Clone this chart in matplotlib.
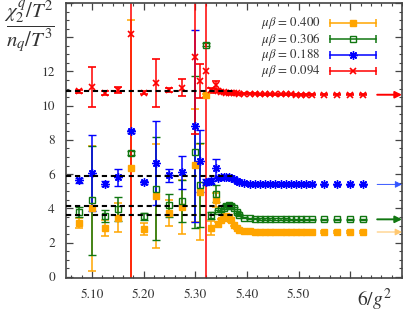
import numpy as np
import matplotlib
matplotlib.use('Agg')
import matplotlib.pyplot as plt
from matplotlib.ticker import MultipleLocator

plt.rcParams['font.family'] = ['STIXGeneral', 'DejaVu Serif']
plt.rcParams['mathtext.fontset'] = 'stix'

# 6/g^2 values (same for every mu beta)
beta = [5.075, 5.10, 5.125, 5.15, 5.175, 5.20, 5.225, 5.25, 5.275, 5.30, 5.31, 5.32,
        5.33, 5.34, 5.345, 5.35, 5.355, 5.36, 5.365, 5.37, 5.375, 5.38, 5.385,
        5.395, 5.405, 5.415, 5.425, 5.435, 5.445, 5.455, 5.465, 5.475, 5.485,
        5.495, 5.505, 5.515, 5.525,
        5.55, 5.575, 5.60, 5.625]

labels = ['0.400', '0.306', '0.188', '0.094']

r_400 = [3.15, 4.00, 2.86, 3.46, 6.38, 2.82, 4.71, 3.73, 4.08, 6.51, 4.96, 10.60,
         2.86, 4.50, 3.10, 3.30, 3.45, 3.55, 3.50, 3.30, 3.05, 2.85, 2.72,
         2.67, 2.65, 2.64, 2.64, 2.63, 2.63, 2.63, 2.62, 2.62, 2.62, 2.62, 2.62, 2.62, 2.62,
         2.62, 2.62, 2.62, 2.62]
e_400 = [0.30, 3.65, 0.45, 0.85, 8.60, 0.35, 3.05, 0.75, 1.60, 3.30, 2.80, 0.10,
         0.40, 0.40, 0.10, 0.10, 0.10, 0.10, 0.10, 0.10, 0.08, 0.08, 0.06,
         0.05, 0.05, 0.05, 0.04, 0.04, 0.04, 0.04, 0.04, 0.04, 0.04, 0.04, 0.04, 0.04, 0.04,
         0.04, 0.04, 0.04, 0.04]

r_306 = [3.79, 4.47, 3.54, 3.99, 7.23, 3.54, 5.15, 4.18, 4.43, 7.29, 5.35, 13.57,
         3.60, 4.86, 3.85, 3.95, 4.05, 4.15, 4.18, 4.15, 4.00, 3.80, 3.60,
         3.45, 3.42, 3.40, 3.39, 3.38, 3.38, 3.37, 3.37, 3.37, 3.36, 3.36, 3.36, 3.36, 3.36,
         3.36, 3.36, 3.36, 3.36]
e_306 = [0.27, 3.20, 0.35, 0.70, 0.10, 0.20, 3.00, 0.66, 1.20, 4.45, 2.45, 0.10,
         0.20, 0.50, 0.08, 0.08, 0.08, 0.08, 0.08, 0.08, 0.06, 0.06, 0.05,
         0.04, 0.04, 0.04, 0.04, 0.04, 0.04, 0.04, 0.04, 0.04, 0.04, 0.04, 0.04, 0.04, 0.04,
         0.04, 0.04, 0.04, 0.04]

r_188 = [5.64, 6.06, 5.45, 5.82, 8.50, 5.52, 6.63, 5.93, 6.10, 8.80, 6.76, 5.54,
         5.60, 6.35, 5.75, 5.82, 5.85, 5.86, 5.84, 5.78, 5.70, 5.60, 5.52,
         5.46, 5.44, 5.43, 5.42, 5.42, 5.41, 5.41, 5.41, 5.40, 5.40, 5.40, 5.40, 5.40, 5.40,
         5.40, 5.40, 5.40, 5.40]
e_188 = [0.15, 2.20, 0.15, 0.50, 0.10, 0.10, 2.45, 0.40, 0.95, 5.60, 1.80, 0.15,
         0.15, 0.55, 0.08, 0.08, 0.08, 0.08, 0.08, 0.08, 0.06, 0.06, 0.05,
         0.04, 0.04, 0.04, 0.04, 0.04, 0.04, 0.04, 0.04, 0.04, 0.04, 0.04, 0.04, 0.04, 0.04,
         0.04, 0.04, 0.04, 0.04]

r_094 = [10.83, 11.08, 10.73, 10.90, 14.19, 10.75, 11.35, 10.93, 11.04, 12.87, 11.45, 12.00,
         10.90, 11.22, 10.86, 10.82, 10.79, 10.77, 10.75, 10.74, 10.73, 10.72, 10.71,
         10.70, 10.69, 10.69, 10.68, 10.68, 10.67, 10.67, 10.66, 10.66, 10.66, 10.65, 10.65,
         10.65, 10.65,
         10.64, 10.64, 10.64, 10.64]
e_094 = [0.10, 1.17, 0.10, 0.18, 20.0, 0.08, 1.40, 0.12, 0.50, 4.55, 1.00, 20.0,
         0.15, 0.25, 0.05, 0.05, 0.05, 0.05, 0.05, 0.05, 0.05, 0.05, 0.05,
         0.03, 0.03, 0.03, 0.03, 0.03, 0.03, 0.03, 0.03, 0.03, 0.03, 0.03, 0.03, 0.03, 0.03,
         0.03, 0.03, 0.03, 0.03]

# dashed reference levels (low beta region)
ref_levels = [10.88, 5.89, 4.14, 3.60]
ref_xmax = 5.375

series = [
    (r_400, e_400, dict(marker='s', ms=5, mfc='#ffa500', mec='#ffa500', color='#ffa500'), '#ffc870', 0.8),
    (r_306, e_306, dict(marker='s', ms=5, mfc='none', mec='#117711', mew=1.0, color='#117711'), '#117711', 1.4),
    (r_188, e_188, dict(marker=(8, 2, 0), ms=6, mec='#0000ff', mew=1.0, color='#0000ff'), '#3355ff', 0.7),
    (r_094, e_094, dict(marker='x', ms=5, mec='#ff0000', mew=1.2, color='#ff0000'), '#ff0000', 1.4),
]

fig = plt.figure(figsize=(4.03, 3.15), dpi=100)
ax = fig.add_axes([0.1638, 0.1184, 0.9975 - 0.1638, 0.9905 - 0.1184])

for y, e, st, acol, alw in series:
    ax.errorbar(beta, y, yerr=e, linestyle='none', elinewidth=1.1, capsize=3.2,
                capthick=1.1, **st)
    ax.annotate('', xy=(5.70, y[-1]), xytext=(5.652, y[-1]),
                arrowprops=dict(arrowstyle='-|>', color=acol, lw=alw,
                                mutation_scale=10, shrinkA=0, shrinkB=0),
                annotation_clip=False)

for lv in ref_levels:
    ax.plot([5.05, ref_xmax], [lv, lv], color='black', lw=1.5,
            dashes=(2.5, 1.8), zorder=5)

ax.set_xlim(5.05, 5.70)
ax.set_ylim(-0.05, 16)
ax.xaxis.set_minor_locator(MultipleLocator(0.02))
ax.yaxis.set_minor_locator(MultipleLocator(0.5))
xt = [5.1, 5.2, 5.3, 5.4, 5.5, 5.6]
ax.set_xticks(xt)
ax.set_xticklabels(['5.10', '5.20', '5.30', '5.40', '5.50', ''])
yt = [0, 2, 4, 6, 8, 10, 12, 14, 16]
ax.set_yticks(yt)
ax.set_yticklabels(['0', '2', '4', '6', '8', '10', '12', '', ''])

gray = '#444444'
ax.tick_params(which='both', direction='in', top=True, right=True, colors=gray,
               labelsize=9.5, labelcolor='#333333')
ax.tick_params(which='major', length=5, width=0.9, pad=8)
ax.tick_params(which='minor', length=2.5, width=0.8)
for sp in ax.spines.values():
    sp.set_color(gray)
    sp.set_linewidth(1.2)

# legend drawn by hand (horizontal error bar style)
leg_y = [0.926, 0.868, 0.811, 0.752]
for (y, e, st, acol, alw), lab, ly in zip(series, labels, leg_y):
    c = st['color']
    ax.plot([0.786, 0.923], [ly, ly], color=c, lw=1.1, transform=ax.transAxes,
            clip_on=False, zorder=6)
    ax.plot([0.786, 0.923], [ly, ly], linestyle='none', marker='|', ms=6,
            mew=1.1, color=c, transform=ax.transAxes, clip_on=False, zorder=6)
    ax.plot([0.854], [ly], linestyle='none', transform=ax.transAxes,
            clip_on=False, zorder=7, **st)
    ax.text(0.757, ly, r'$\mu\beta$ = ' + lab, transform=ax.transAxes,
            ha='right', va='center', fontsize=9.3, color='#333333')

fig.text(0.073, 0.915, r'$\dfrac{\chi_2^q/T^2}{n_q/T^3}$', ha='center',
         va='center', fontsize=15, color='#333333')
fig.text(0.93, 0.048, r'$6/g^2$', ha='center', va='center', fontsize=14,
         color='#333333')

fig.savefig('out.png', dpi=100)
